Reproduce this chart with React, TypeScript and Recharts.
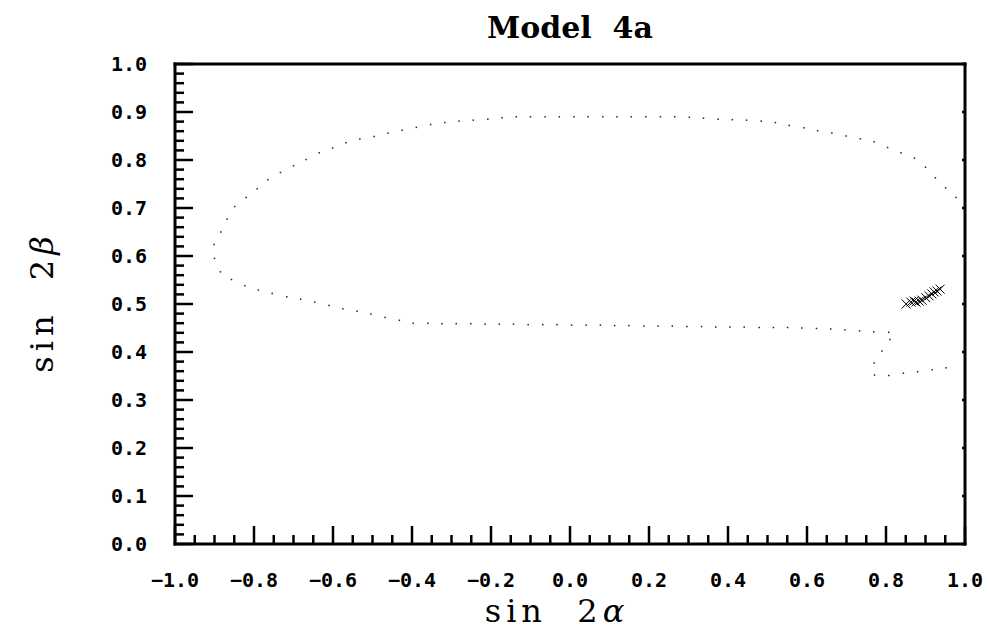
import { ScatterChart, Scatter, XAxis, YAxis } from 'recharts'

// dotted contour, upper branch (left to right)
const upperX = [-0.901, -0.884, -0.868, -0.849, -0.820, -0.792, -0.765, -0.733, -0.700, -0.668, -0.635, -0.601, -0.567, -0.532, -0.496, -0.461, -0.425, -0.389, -0.353, -0.317, -0.281, -0.245, -0.208, -0.172, -0.136, -0.100, -0.063, -0.027, 0.010, 0.046, 0.083, 0.119, 0.155, 0.192, 0.229, 0.265, 0.302, 0.338, 0.375, 0.411, 0.447, 0.484, 0.520, 0.555, 0.592, 0.627, 0.663, 0.699, 0.735, 0.770, 0.804, 0.838, 0.872, 0.900, 0.925, 0.951, 0.977]
const upperY = [0.624, 0.650, 0.677, 0.703, 0.722, 0.740, 0.759, 0.774, 0.788, 0.801, 0.815, 0.825, 0.836, 0.844, 0.849, 0.856, 0.862, 0.868, 0.874, 0.878, 0.881, 0.883, 0.885, 0.888, 0.890, 0.890, 0.890, 0.890, 0.890, 0.890, 0.890, 0.890, 0.890, 0.890, 0.890, 0.890, 0.889, 0.887, 0.885, 0.884, 0.883, 0.881, 0.878, 0.872, 0.867, 0.861, 0.856, 0.850, 0.844, 0.838, 0.826, 0.815, 0.804, 0.785, 0.763, 0.742, 0.722]

// lower branch, including the hook at the right
const lowerX = [-0.900, -0.885, -0.857, -0.823, -0.789, -0.754, -0.717, -0.682, -0.646, -0.610, -0.575, -0.539, -0.504, -0.468, -0.432, -0.397, -0.360, -0.324, -0.288, -0.251, -0.215, -0.179, -0.143, -0.106, -0.069, -0.033, 0.004, 0.041, 0.077, 0.113, 0.149, 0.187, 0.223, 0.259, 0.296, 0.333, 0.369, 0.405, 0.441, 0.479, 0.515, 0.551, 0.587, 0.624, 0.660, 0.696, 0.733, 0.769, 0.807, 0.810, 0.790, 0.770, 0.771, 0.807, 0.844, 0.880, 0.917, 0.952]
const lowerY = [0.595, 0.567, 0.551, 0.538, 0.529, 0.522, 0.515, 0.510, 0.504, 0.497, 0.490, 0.485, 0.479, 0.472, 0.466, 0.460, 0.460, 0.459, 0.459, 0.459, 0.458, 0.458, 0.458, 0.457, 0.457, 0.457, 0.456, 0.456, 0.456, 0.455, 0.455, 0.454, 0.454, 0.454, 0.453, 0.453, 0.452, 0.452, 0.452, 0.451, 0.451, 0.451, 0.450, 0.449, 0.448, 0.446, 0.444, 0.442, 0.441, 0.426, 0.402, 0.377, 0.352, 0.351, 0.356, 0.359, 0.363, 0.367]

// x markers
const crossX = [0.851, 0.863, 0.871, 0.876, 0.884, 0.891, 0.901, 0.909, 0.916, 0.922, 0.929, 0.937]
const crossY = [0.500, 0.504, 0.506, 0.504, 0.506, 0.508, 0.513, 0.517, 0.521, 0.525, 0.527, 0.531]

const xMajor = [-1, -0.8, -0.6, -0.4, -0.2, 0, 0.2, 0.4, 0.6, 0.8, 1]
const yMajor = [0, 0.1, 0.2, 0.3, 0.4, 0.5, 0.6, 0.7, 0.8, 0.9, 1]

const toPoints = (xs: number[], ys: number[]) => xs.map((x, i) => ({ x, y: ys[i] }))
const upper = toPoints(upperX, upperY)
const lower = toPoints(lowerX, lowerY)
const crosses = toPoints(crossX, crossY)

// minor ticks between majors
function subdivide(major: number[], parts: number) {
  const out: number[] = []
  for (let i = 0; i < major.length - 1; i++) {
    const step = (major[i + 1] - major[i]) / parts
    for (let k = 0; k < parts; k++) out.push(+(major[i] + k * step).toFixed(4))
  }
  out.push(major[major.length - 1])
  return out
}
const xTicks = subdivide(xMajor, 4)
const yTicks = subdivide(yMajor, 5)

const isMajor = (v: number, major: number[]) => major.some(m => Math.abs(m - v) < 1e-6)
const fmt = (v: number) => (v < 0 ? '\u2212' : '') + Math.abs(v).toFixed(1)

const TICK_FONT = '"DejaVu Sans Mono", monospace'
const INK = '#000'

function BottomTick({ x, y, payload }: any) {
  const major = isMajor(payload.value, xMajor)
  return (
    <g>
      <line x1={x} x2={x} y1={y} y2={y - (major ? 18 : 9)} stroke={INK} strokeWidth={2.5} />
      {major && (
        <text x={x} y={y + 43} textAnchor="middle" fontFamily={TICK_FONT} fontWeight="bold" fontSize={20} fill={INK}>
          {fmt(payload.value)}
        </text>
      )}
    </g>
  )
}

function LeftTick({ x, y, payload }: any) {
  const major = isMajor(payload.value, yMajor)
  return (
    <g>
      <line x1={x} x2={x + (major ? 18 : 9)} y1={y} y2={y} stroke={INK} strokeWidth={2.5} />
      {major && (
        <text x={x - 28} y={y + 7} textAnchor="end" fontFamily={TICK_FONT} fontWeight="bold" fontSize={20} fill={INK}>
          {fmt(payload.value)}
        </text>
      )}
    </g>
  )
}

function TopTick({ x, y }: any) {
  return <line x1={x} x2={x} y1={y} y2={y + 3} stroke={INK} strokeWidth={2.5} />
}

function RightTick({ x, y }: any) {
  return <line x1={x} x2={x - 3} y1={y} y2={y} stroke={INK} strokeWidth={2.5} />
}

const Dot = (p: any) => <rect x={p.cx - 0.75} y={p.cy - 0.75} width={1.5} height={1.5} fill="#222" />

const Cross = (p: any) => {
  const { cx, cy } = p
  const h = 4.5
  return (
    <path
      d={`M${cx - h},${cy - h}L${cx + h},${cy + h}M${cx - h},${cy + h}L${cx + h},${cy - h}`}
      stroke={INK}
      strokeWidth={1}
      fill="none"
    />
  )
}

const frame = { stroke: INK, strokeWidth: 3, strokeLinecap: 'square' as const }

export default function App() {
  return (
    <div style={{ position: 'absolute', left: 0, top: 0, width: 988, height: 639, background: '#fff' }}>
      <ScatterChart width={988} height={639} margin={{ top: 63, right: 22, bottom: 94, left: 174 }}>
        <XAxis
          xAxisId="b"
          type="number"
          dataKey="x"
          domain={[-1, 1]}
          allowDataOverflow
          ticks={xTicks}
          interval={0}
          height={1}
          tickSize={0}
          tickMargin={0}
          tickLine={false}
          axisLine={frame}
          tick={<BottomTick />}
        />
        <XAxis
          xAxisId="t"
          orientation="top"
          type="number"
          domain={[-1, 1]}
          allowDataOverflow
          ticks={xMajor}
          interval={0}
          height={1}
          tickSize={0}
          tickMargin={0}
          tickLine={false}
          axisLine={frame}
          tick={<TopTick />}
        />
        <YAxis
          yAxisId="l"
          type="number"
          dataKey="y"
          domain={[0, 1]}
          allowDataOverflow
          ticks={yTicks}
          interval={0}
          width={1}
          tickSize={0}
          tickMargin={0}
          tickLine={false}
          axisLine={frame}
          tick={<LeftTick />}
        />
        <YAxis
          yAxisId="r"
          orientation="right"
          type="number"
          domain={[0, 1]}
          allowDataOverflow
          ticks={yMajor}
          interval={0}
          width={1}
          tickSize={0}
          tickMargin={0}
          tickLine={false}
          axisLine={frame}
          tick={<RightTick />}
        />
        <Scatter xAxisId="b" yAxisId="l" data={upper} shape={<Dot />} isAnimationActive={false} />
        <Scatter xAxisId="b" yAxisId="l" data={lower} shape={<Dot />} isAnimationActive={false} />
        <Scatter xAxisId="b" yAxisId="l" data={crosses} shape={<Cross />} isAnimationActive={false} />
      </ScatterChart>
      <svg width={988} height={639} style={{ position: 'absolute', left: 0, top: 0, pointerEvents: 'none' }}>
        <text x={570} y={38} textAnchor="middle" fontFamily='"DejaVu Serif", serif' fontWeight="bold" fontSize={30} fill={INK} style={{ whiteSpace: 'pre' }}>
          {'Model  4a'}
        </text>
        <text x={557} y={622} textAnchor="middle" fontFamily='"DejaVu Serif", serif' fontSize={32} letterSpacing={5} fill={INK} style={{ whiteSpace: 'pre' }}>
          {'sin  2'}<tspan fontStyle="italic">α</tspan>
        </text>
        <text x={53} y={302} transform="rotate(-90, 53, 302)" textAnchor="middle" fontFamily='"DejaVu Serif", serif' fontSize={32} letterSpacing={5} fill={INK} style={{ whiteSpace: 'pre' }}>
          {'sin  2'}<tspan fontStyle="italic">β</tspan>
        </text>
      </svg>
    </div>
  )
}
